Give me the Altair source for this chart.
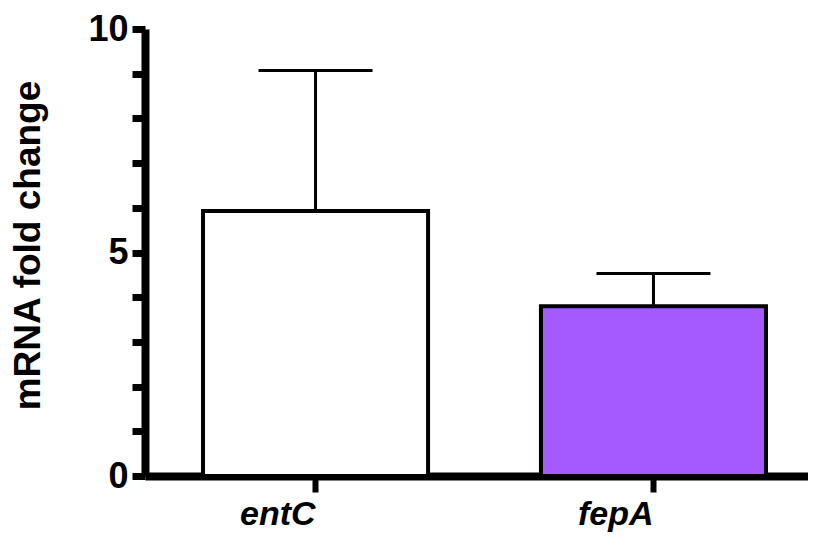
import altair as alt
import pandas as pd

genes = ["entC", "fepA"]
means = [5.93, 3.80]
errs = [3.14, 0.73]
fills = ["#FFFFFF", "#A55AFF"]
y_ticks = [0, 1, 2, 3, 4, 5, 6, 7, 8, 9, 10]

df = pd.DataFrame({"gene": genes, "mean": means, "err": errs, "fill": fills})
df["upper"] = df["mean"] + df["err"]

FONT = "Liberation Sans"

xscale = alt.Scale(paddingInner=0.334, paddingOuter=0.148, align=0.58)
yscale = alt.Scale(domain=[0, 10], nice=False)

x_enc = alt.X("gene:N", scale=xscale, sort=genes, axis=alt.Axis(
    title=None, labelAngle=0, labelFont=FONT, labelFontSize=34,
    labelFontWeight="bold", labelFontStyle="italic", labelColor="black",
    labelPadding=22, tickSize=16, tickWidth=6, tickColor="black",
    domainWidth=8, domainColor="black"))

y_enc = alt.Y("mean:Q", scale=yscale, axis=alt.Axis(
    title="mRNA fold change", titleFont=FONT, titleFontSize=37,
    titleFontWeight="bold", titleColor="black", titleX=-106, titleY=216,
    titleBaseline="alphabetic", titleAngle=270, titleAlign="center",
    values=y_ticks, labelExpr="datum.value % 5 === 0 ? datum.label : ''",
    labelFont=FONT, labelFontSize=36, labelFontWeight="bold", labelColor="black",
    labelPadding=4, tickSize=13, tickWidth=7, tickColor="black",
    domainWidth=8, domainColor="black", grid=False))

bars = alt.Chart(df).mark_bar(stroke="black", strokeWidth=4).encode(
    x=x_enc, y=y_enc,
    fill=alt.Fill("fill:N", scale=None),
)

rule = alt.Chart(df).mark_rule(color="black", strokeWidth=3).encode(
    x=alt.X("gene:N", scale=xscale, sort=genes),
    y=alt.Y("mean:Q", scale=yscale),
    y2="upper:Q",
)

cap = alt.Chart(df).mark_tick(color="black", opacity=1, thickness=3, size=114,
                              orient="horizontal").encode(
    x=alt.X("gene:N", scale=xscale, sort=genes),
    y=alt.Y("upper:Q", scale=yscale),
)

chart = alt.layer(rule, bars, cap).properties(
    width=663, height=447,
    autosize=alt.AutoSizeParams(type="none"),
    padding={"left": 137, "top": 21, "right": 0, "bottom": 62},
).configure_view(stroke=None).configure_axis(grid=False)

chart.save("out.html", embed_options={"renderer": "svg", "actions": False})
